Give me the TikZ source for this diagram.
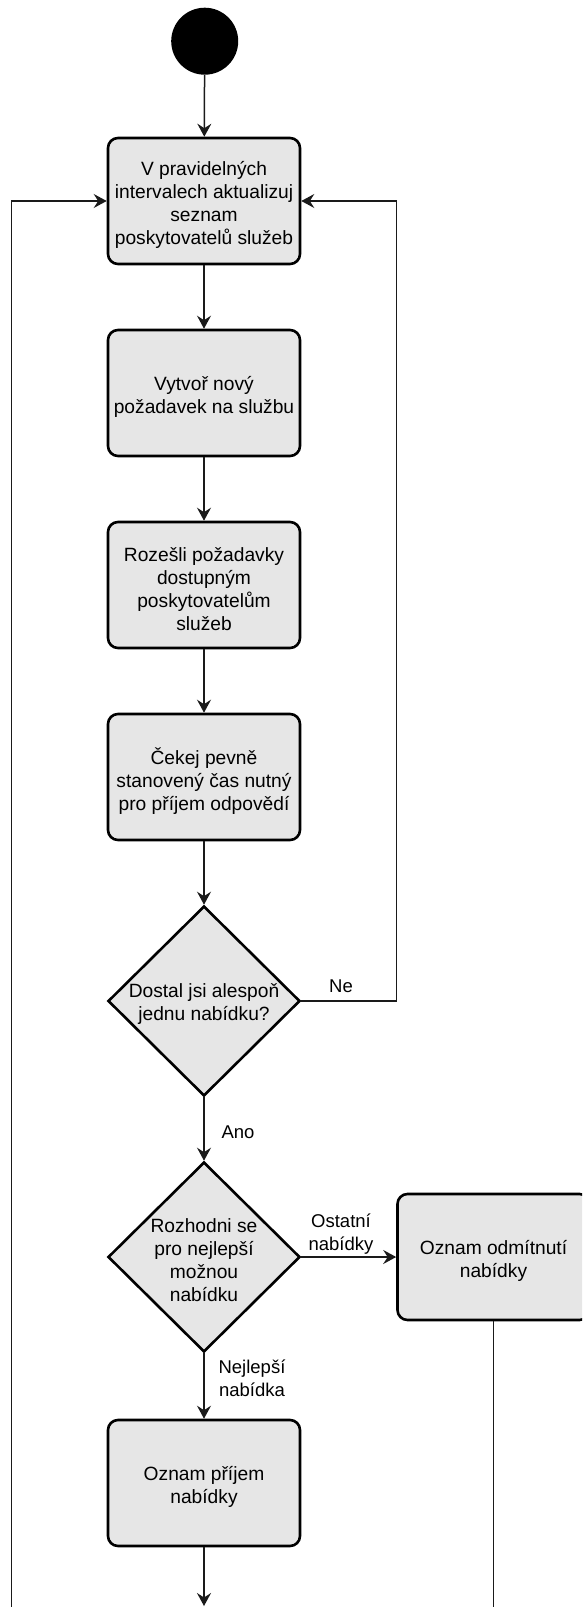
\documentclass[tikz,border=0pt]{standalone}
\usepackage{fontspec}
\setmainfont{Liberation Sans}
\usetikzlibrary{shapes.geometric,arrows.meta}

\definecolor{boxfill}{HTML}{E6E6E6}
\definecolor{wire}{HTML}{1A1A1A}

\tikzset{
  txt/.style={font=\fontsize{19.2}{23.1}\selectfont, align=center, inner sep=0pt},
  lbl/.style={font=\fontsize{18.5}{23.1}\selectfont, align=center, inner sep=0pt},
  action/.style={draw=black, fill=boxfill, line width=2.6pt, rounded corners=10pt,
    minimum width=192pt, minimum height=126pt, inner sep=0pt},
  choice/.style={draw=black, fill=boxfill, line width=2.6pt, shape=diamond,
    minimum width=192pt, minimum height=190pt, inner sep=0pt},
  flow/.style={draw=wire, line width=1.5pt, -{Stealth[length=13pt,width=14pt,inset=4.5pt]}},
  plain/.style={draw=wire, line width=1.5pt},
}

\begin{document}
\begin{tikzpicture}[x=1pt,y=-1pt]
  \useasboundingbox (0,0) rectangle (582,1607);
  \clip (0,0) rectangle (582,1607);

  % start point
  \node[circle, fill=black, minimum size=67pt, inner sep=0pt] (start) at (204.7,41.2) {};

  % shapes
  \node[action] (upd)    at (204,201)    {};
  \node[action] (req)    at (204,393)    {};
  \node[action] (send)   at (204,585)    {};
  \node[action] (wait)   at (204,777)    {};
  \node[choice] (got)    at (204,1001)   {};
  \node[choice] (pick)   at (204,1257)   {};
  \node[action] (accept) at (204,1483)   {};
  \node[action] (reject) at (493.5,1257) {};

  % texts inside the shapes
  \node[txt] (tupd)    at ([yshift=-4pt]upd.center)    {V pravidelných\\intervalech aktualizuj\\seznam\\poskytovatelů služeb};
  \node[txt] (treq)    at ([yshift=-4pt]req.center)    {Vytvoř nový\\požadavek na službu};
  \node[txt] (tsend)   at ([yshift=-4pt]send.center)   {Rozešli požadavky\\dostupným\\poskytovatelům\\služeb};
  \node[txt] (twait)   at ([yshift=-4pt]wait.center)   {Čekej pevně\\stanovený čas nutný\\pro příjem odpovědí};
  \node[txt] (tgot)    at ([yshift=-3pt]got.center)    {Dostal jsi alespoň\\jednu nabídku?};
  \node[txt] (tpick)   at ([yshift=-3pt]pick.center)   {Rozhodni se\\pro nejlepší\\možnou\\nabídku};
  \node[txt] (taccept) at ([yshift=-4pt]accept.center) {Oznam příjem\\nabídky};
  \node[txt] (treject) at ([yshift=-4pt]reject.center) {Oznam odmítnutí\\nabídky};

  % loose ends running past the lower edge
  \coordinate (loopL) at (11.7,1700);
  \coordinate (rejEnd) at (493.5,1700);
  \coordinate (accEnd) at (204,1606);
  \coordinate (loopR) at (396.7,1001);

  % connectors
  \draw[flow] (start) -- (upd);
  \draw[flow] (upd) -- (req);
  \draw[flow] (req) -- (send);
  \draw[flow] (send) -- (wait);
  \draw[flow] (wait) -- (got);
  \draw[flow] (got.east) -- (loopR) |- (upd.east);
  \draw[flow] (got) -- (pick);
  \draw[flow] (pick) -- (accept);
  \draw[flow] (pick.east) -- (reject.west);
  \draw[flow] (accept) -- (accEnd);
  \draw[plain] (reject) -- (rejEnd);
  \draw[flow] (loopL) |- (upd.west);

  % connector labels
  \node[lbl] (lne)  at (341,986)  {Ne};
  \node[lbl] (lano) at (238,1132) {Ano};
  \node[lbl] (lost) at (341,1234) {Ostatní\\nabídky};
  \node[lbl] (lbest) at (252,1378) {Nejlepší\\nabídka};
\end{tikzpicture}
\end{document}
